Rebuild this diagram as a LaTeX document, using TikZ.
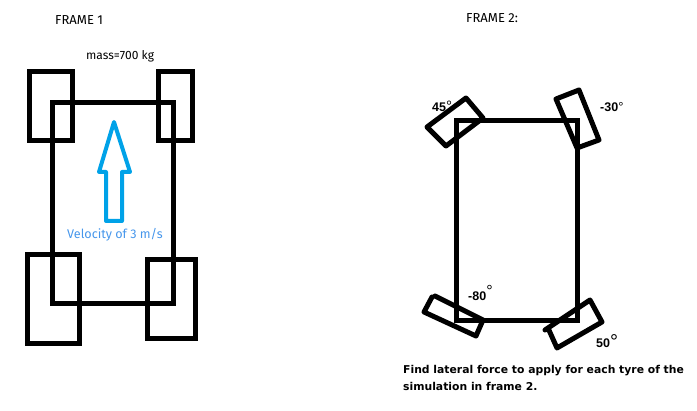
\documentclass[tikz,border=0pt]{standalone}
\usepackage{fontspec}
\setmainfont{Liberation Sans}
\newfontfamily\handfont{Fira Sans}
\newfontfamily\boldfont{DejaVu Sans}[BoldFont={DejaVu Sans Bold}]
\usetikzlibrary{positioning}

\definecolor{arrowblue}{RGB}{0,162,232}
\definecolor{velblue}{RGB}{70,150,235}

\tikzset{
  car/.style={draw,line width=5pt,line join=miter},
  tyre/.style={draw,line width=5pt,line join=round,line cap=round},
  frametitle/.style={font=\handfont\fontsize{13}{15}\selectfont,anchor=west,inner sep=0pt},
  angle/.style={font=\fontsize{12.5}{14}\selectfont\bfseries,anchor=west,inner sep=0pt},
}

\newcommand{\degmark}[2]{\raisebox{#1}[0pt][0pt]{\fontsize{#2}{#2}\selectfont\mdseries °}}

\begin{document}
\begin{tikzpicture}[x=1pt,y=-1pt]

  \useasboundingbox (0,0) rectangle (697,411);

  \node [frametitle] (frame1) at (55,20) {FRAME 1};
  \node [frametitle] (frame2) at (466,18) {FRAME 2:};
  \node [frametitle,font=\handfont\fontsize{12}{14}\selectfont] (mass) at (86,56) {mass=700 kg};

  % frame 1
  \path [car] (52.5,102.5) rectangle (173.5,303.5);
  \path [car] (29.5,71.5) rectangle (72.5,140.5);
  \path [car] (158.5,71.5) rectangle (192.5,140.5);
  \path [car] (27.5,254.5) rectangle (79.5,343.5);
  \path [car] (147.5,259.5) rectangle (195.5,338.5);

  \path [draw,arrowblue,line width=4pt,line join=round]
    (114,122) -- (130,172) -- (122,172) -- (122,221) -- (106,221) -- (106,172) -- (99,172) -- cycle;

  \node [font=\handfont\fontsize{12.6}{14}\selectfont,text=velblue,anchor=west,inner sep=0pt] (velocity) at (67,235) {Velocity of 3 m/s};

  % frame 2
  \path [car] (456.5,120.5) rectangle (577.5,320.5);

  \path [tyre] (427,127) -- (466,98) -- (483,118) -- (446,146) -- cycle;
  \path [tyre] (556,99) -- (579,90) -- (599,140) -- (577,148) -- cycle;
  \path [tyre] (435,296) -- (483,320) -- (476,336) -- (424,312) -- (432,297);
  \path [tyre] (545,330) -- (590,300) -- (602,322) -- (557,348) -- (548,328);

  \node [angle] (a45) at (432,107) {45\degmark{-0.7pt}{15}};
  \node [angle] (a30) at (600,107) {-30\degmark{-0.6pt}{13}};
  \node [angle] (a80) at (468,296) {-80\degmark{3.7pt}{16}};
  \node [angle] (a50) at (596,343) {50\degmark{-1.5pt}{20}};

  \node [font=\boldfont\bfseries\fontsize{10.8}{17}\selectfont,align=left,anchor=north west,inner sep=0pt] (task) at (403,365)
    {Find lateral force to apply for each tyre of the\\simulation in frame 2.};

\end{tikzpicture}
\end{document}
